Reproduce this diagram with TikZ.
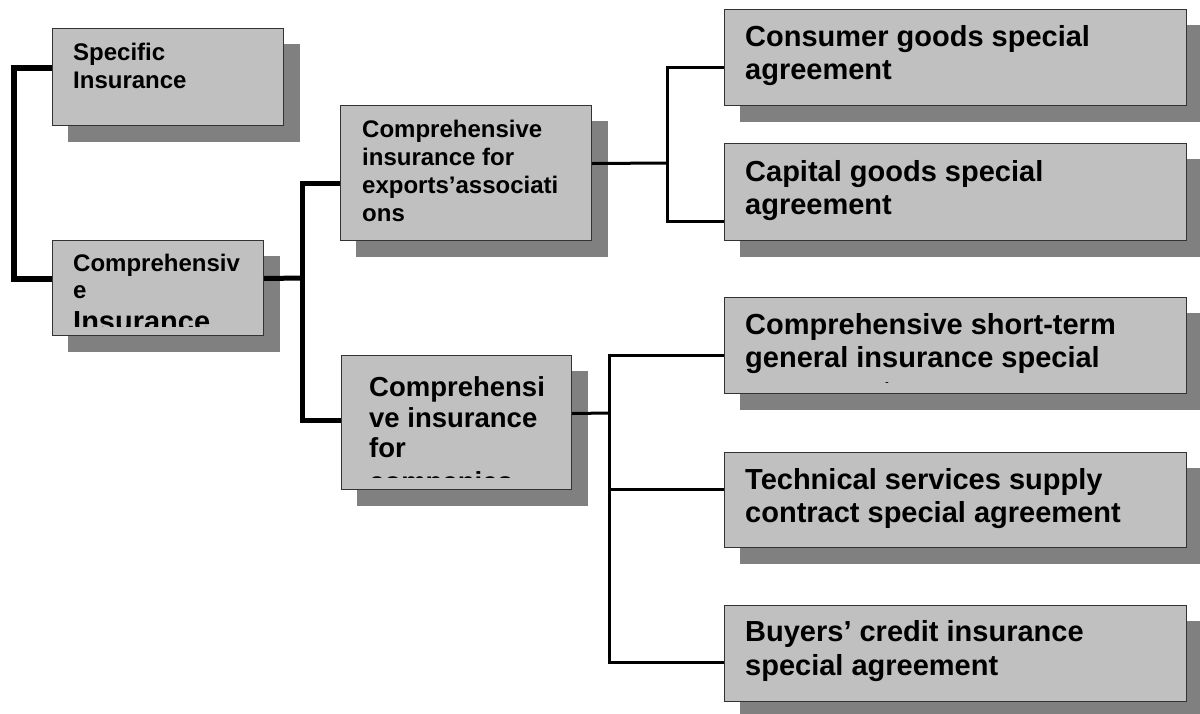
\documentclass[tikz,border=0pt]{standalone}
\usepackage{fontspec}
\setmainfont{Liberation Sans}
\usetikzlibrary{calc,backgrounds}
\definecolor{boxfill}{HTML}{C0C0C0}
\definecolor{boxline}{HTML}{333333}
\definecolor{shadowc}{HTML}{808080}
\tikzset{
  box/.style={draw=boxline, fill=boxfill, line width=1pt, inner sep=0pt, anchor=north west},
  lbl/.style={anchor=base west, inner sep=0pt, text=black},
  small/.style={font=\bfseries\fontsize{24}{27.8}\selectfont},
  mid/.style={font=\bfseries\fontsize{27.5}{30.5}\selectfont},
  big/.style={font=\bfseries\fontsize{29}{33.3}\selectfont},
  link6/.style={draw=black, line width=6pt},
  link5/.style={draw=black, line width=5pt},
  link3/.style={draw=black, line width=3pt}
}
\begin{document}
\begin{tikzpicture}[x=1pt,y=-1pt]
\useasboundingbox (0,0) rectangle (1200,713);
% boxes
\node[box, minimum width=231pt, minimum height=97pt] (spec) at (52,28) {};
\node[box, minimum width=211pt, minimum height=95pt] (comp) at (52,240) {};
\node[box, minimum width=251pt, minimum height=135pt] (expo) at (340,105) {};
\node[box, minimum width=230pt, minimum height=134pt] (corp) at (341,355) {};
\node[box, minimum width=462pt, minimum height=96pt] (cons) at (724,9) {};
\node[box, minimum width=462pt, minimum height=97pt] (capi) at (724,143) {};
\node[box, minimum width=462pt, minimum height=96pt] (shor) at (724,297) {};
\node[box, minimum width=462pt, minimum height=95pt] (tech) at (724,452) {};
\node[box, minimum width=462pt, minimum height=96pt] (buye) at (724,605) {};
% shadows
\begin{scope}[on background layer]
\foreach \b in {spec,comp,expo,corp,cons,capi,shor,tech,buye}
  \fill[shadowc] ($(\b.north west)+(16,16)$) rectangle ($(\b.south east)+(16,16)$);
\end{scope}
% connectors
\coordinate (j1) at (302,278);
\coordinate (j2) at (667,163);
\coordinate (j3) at (609,413);
\coordinate (ta) at ([yshift=10.5pt]tech.west);
\draw[link6] ([yshift=9.5pt]spec.west) -- ++(-38,0) |- ([yshift=9.5pt]comp.west);
\draw[link5] ([yshift=9.5pt]comp.east) -- (j1);
\draw[link5] ([yshift=-10.5pt]expo.west) -| (j1) |- ([yshift=2pt]corp.west);
\draw[link3] ([yshift=9.5pt]expo.east) -- (j2);
\draw[link3] ([yshift=-10pt]cons.west) -| (j2) |- ([yshift=-29.5pt]capi.west);
\draw[link3] ([yshift=9pt]corp.east) -- (j3);
\draw[link3] ([yshift=-10pt]shor.west) -| (j3) |- ([yshift=-9pt]buye.west);
\draw[link3] (ta) -- (j3 |- ta);
% texts
\begin{scope}
\clip (spec.north west) rectangle ($(spec.south east)+(0,-9)$);
\node[lbl, small] (spect) at (73,60) {\vtop{\baselineskip=28.3pt\hbox{Specific}\hbox{Insurance}}};
\end{scope}
\begin{scope}
\clip (comp.north west) rectangle ($(comp.south east)+(0,-9.5)$);
\node[lbl, small] (compt) at (73,271.7) {\vtop{\baselineskip=26.8pt\hbox{Comprehensiv}\hbox{e}\vskip6pt\hbox{\fontsize{29}{33}\selectfont Insurance}}};
\end{scope}
\begin{scope}
\clip (expo.north west) rectangle ($(expo.south east)+(0,-9)$);
\node[lbl, small] (expot) at (362,137.7) {\vtop{\hbox{Comprehensive}\hbox{insurance for}\hbox{exports’associati}\hbox{ons}}};
\end{scope}
\begin{scope}
\clip (corp.north west) rectangle ($(corp.south east)+(0,-12.5)$);
\node[lbl, mid] (corpt) at (369,396.7) {\vtop{\hbox{Comprehensi}\hbox{ve insurance}\hbox{for}\vskip3pt\hbox{companies}}};
\end{scope}
\begin{scope}
\clip (cons.north west) rectangle ($(cons.south east)+(0,-9)$);
\node[lbl, big] (const) at (745,46.5) {\vtop{\hbox{Consumer goods special}\hbox{agreement}}};
\end{scope}
\begin{scope}
\clip (capi.north west) rectangle ($(capi.south east)+(0,-9)$);
\node[lbl, big] (capit) at (745,181) {\vtop{\hbox{Capital goods special}\hbox{agreement}}};
\end{scope}
\begin{scope}
\clip (shor.north west) rectangle ($(shor.south east)+(0,-11.5)$);
\node[lbl, big] (short) at (745,334.5) {\vtop{\hbox{Comprehensive short-term}\hbox{general insurance special}\hbox{agreement}}};
\end{scope}
\begin{scope}
\clip (tech.north west) rectangle ($(tech.south east)+(0,-9)$);
\node[lbl, big] (techt) at (745,489) {\vtop{\hbox{Technical services supply}\hbox{contract special agreement}}};
\end{scope}
\begin{scope}
\clip (buye.north west) rectangle ($(buye.south east)+(0,-9)$);
\node[lbl, big] (buyet) at (745,641.7) {\vtop{\hbox{Buyers’ credit insurance}\hbox{special agreement}}};
\end{scope}
\end{tikzpicture}
\end{document}
